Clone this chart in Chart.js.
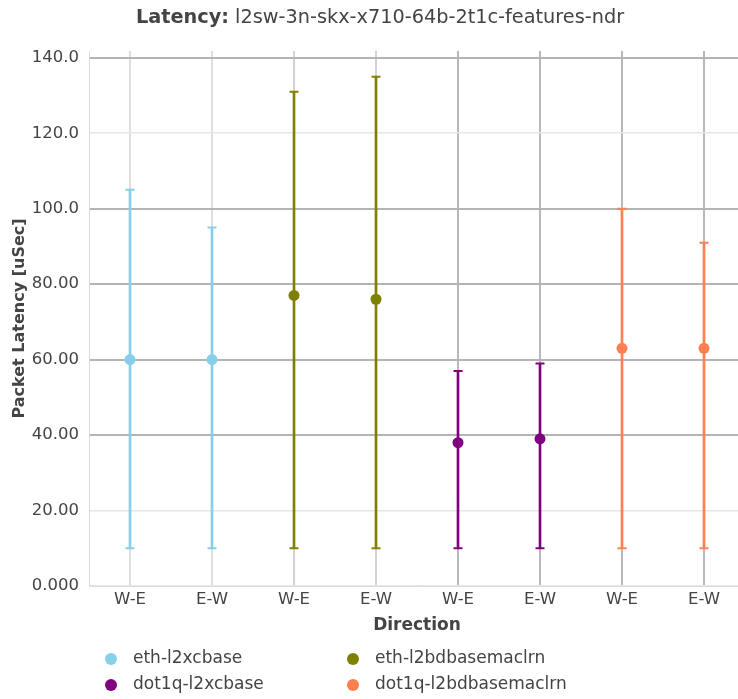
<!DOCTYPE html>
<html>
<head>
<meta charset="utf-8">
<script src="https://cdn.jsdelivr.net/npm/chart.js@4/dist/chart.umd.min.js"></script>
<style>
  html, body { margin: 0; padding: 0; background: #fff; overflow: hidden; }
  #wrap { position: relative; width: 760px; height: 699px; font-family: "DejaVu Sans", sans-serif; color: #444; }
  #title { position: absolute; top: 5px; left: 0; width: 760px; text-align: center; font-size: 19.3px; }
  #legend { position: absolute; top: 647px; left: 0; width: 760px; font-size: 17px; }
  .item { position: absolute; white-space: nowrap; }
  .dot { position: absolute; width: 12px; height: 12px; border-radius: 50%; left: -28px; top: 6px; }
</style>
</head>
<body>
<div id="wrap">
  <canvas id="chart" width="760" height="699"></canvas>
  <div id="title"><b>Latency:</b> l2sw-3n-skx-x710-64b-2t1c-features-ndr</div>
  <div id="legend"></div>
</div>
<script>
// categories and tick labels
const directions = ['W-E', 'E-W', 'W-E', 'E-W', 'W-E', 'E-W', 'W-E', 'E-W'];
const yTickLabels = { 0: '0.000', 20: '20.00', 40: '40.00', 60: '60.00', 80: '80.00', 100: '100.0', 120: '120.0', 140: '140.0' };

// series: average latency with min / max (uSec), one pair (W-E, E-W) per test
const seriesNames = ['eth-l2xcbase', 'eth-l2bdbasemaclrn', 'dot1q-l2xcbase', 'dot1q-l2bdbasemaclrn'];
const seriesColors = ['#87CEEB', '#808000', '#800080', '#FF7F50'];
const avgLat = [[60, 60], [77, 76], [38, 39], [63, 63]];
const minLat = [[10, 10], [10, 10], [10, 10], [10, 10]];
const maxLat = [[105, 95], [131, 135], [57, 59], [100, 91]];

// put the pair of values of series s at its two slots, null elsewhere
function spread(s, vals) {
  var out = directions.map(() => null);
  out[s * 2] = vals[0];
  out[s * 2 + 1] = vals[1];
  return out;
}

var datasets = [];
seriesNames.forEach((name, s) => {
  var c = seriesColors[s];
  datasets.push({
    type: 'line', label: name, data: spread(s, avgLat[s]),
    showLine: false, pointRadius: 5.5, pointHoverRadius: 5.5,
    backgroundColor: c, borderColor: c, borderWidth: 0, order: 0
  });
  datasets.push({
    type: 'bar', label: name + ' range',
    data: spread(s, [[minLat[s][0], maxLat[s][0]], [minLat[s][1], maxLat[s][1]]]),
    backgroundColor: c, borderWidth: 0, barThickness: 2, grouped: false, order: 2
  });
  [maxLat, minLat].forEach((arr) => {
    datasets.push({
      type: 'line', label: name + ' cap', data: spread(s, arr[s]),
      showLine: false, pointStyle: 'line', pointRadius: 4.5, pointHoverRadius: 4.5,
      borderColor: c, pointBorderWidth: 2, order: 1
    });
  });
});

// legend in two columns, as in the original
var legend = document.getElementById('legend');
var legendX = [133, 375];
seriesNames.forEach((name, s) => {
  var el = document.createElement('div');
  el.className = 'item';
  el.style.left = legendX[s % 2] + 'px';
  el.style.top = (Math.floor(s / 2) * 26) + 'px';
  el.innerHTML = '<span class="dot" style="background:' + seriesColors[s] + '"></span>' + name;
  legend.appendChild(el);
});

var darkY = [40, 60, 80, 100, 140];
var xGridColors = ['#dedede', '#dedede', '#d2d2d2', '#d2d2d2', '#b8b8b8', '#b8b8b8', '#b8b8b8', '#b8b8b8'];

new Chart(document.getElementById('chart'), {
  data: { labels: directions, datasets: datasets },
  options: {
    responsive: false,
    animation: false,
    layout: { padding: { left: 0, right: 15, top: 51, bottom: 63 } },
    plugins: { legend: { display: false }, tooltip: { enabled: false } },
    scales: {
      x: {
        type: 'category', offset: true,
        grid: { offset: false, drawTicks: false, lineWidth: 2, color: (ctx) => xGridColors[ctx.index] || '#dedede' },
        border: { display: true, color: '#dcdcdc', width: 1 },
        ticks: { color: '#444', padding: 4, font: { family: 'DejaVu Sans', size: 16.5 } },
        title: { display: true, text: 'Direction', color: '#444', padding: { top: 0, bottom: 0 },
                 font: { family: 'DejaVu Sans', size: 17, weight: 'bold' } },
        afterFit: (scale) => { scale.height = 50; }
      },
      y: {
        min: 0, max: 141.8,
        grid: {
          drawTicks: false,
          color: (ctx) => darkY.includes(ctx.tick.value) ? '#b4b4b4' : '#e6e6e6',
          lineWidth: (ctx) => darkY.includes(ctx.tick.value) ? 2 : 1.5
        },
        border: { display: true, color: '#dcdcdc', width: 1 },
        ticks: {
          stepSize: 20, includeBounds: false, padding: 10, color: '#444',
          font: { family: 'DejaVu Sans', size: 16.5 },
          callback: (v) => yTickLabels[v]
        },
        title: { display: true, text: 'Packet Latency [uSec]', color: '#444', padding: { top: 10 },
                 font: { family: 'DejaVu Sans', size: 16, weight: 'bold' } },
        afterFit: (scale) => { scale.width = 89; }
      }
    }
  }
});
</script>
</body>
</html>
